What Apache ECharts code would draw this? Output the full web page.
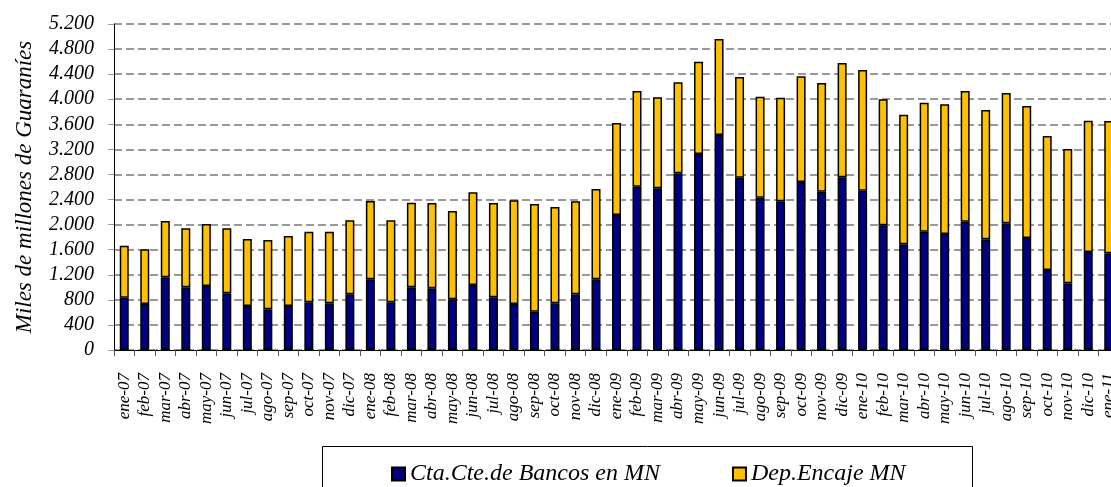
<!DOCTYPE html>
<html>
<head>
<meta charset="utf-8">
<script src="https://cdn.jsdelivr.net/npm/echarts@6/dist/echarts.min.js"></script>
<style>
  html, body { margin: 0; padding: 0; background: #fff; }
  #chart { width: 1111px; height: 487px; }
</style>
</head>
<body>
<div id="chart"></div>
<script>
// meses ene-07 .. ene-11
var meses = ['ene-07', 'feb-07', 'mar-07', 'abr-07', 'may-07', 'jun-07', 'jul-07', 'ago-07', 'sep-07', 'oct-07', 'nov-07', 'dic-07',
    'ene-08', 'feb-08', 'mar-08', 'abr-08', 'may-08', 'jun-08', 'jul-08', 'ago-08', 'sep-08', 'oct-08', 'nov-08', 'dic-08',
    'ene-09', 'feb-09', 'mar-09', 'abr-09', 'may-09', 'jun-09', 'jul-09', 'ago-09', 'sep-09', 'oct-09', 'nov-09', 'dic-09',
    'ene-10', 'feb-10', 'mar-10', 'abr-10', 'may-10', 'jun-10', 'jul-10', 'ago-10', 'sep-10', 'oct-10', 'nov-10', 'dic-10',
    'ene-11'];

// Cta.Cte.de Bancos en MN (parte inferior)
var ctaCte = [835, 734, 1159, 1000, 1021, 904, 702, 649, 702, 760, 744, 888,
    1127, 760, 1000, 984, 808, 1037, 840, 734, 611, 744, 888, 1127,
    2153, 2605, 2579, 2818, 3126, 3429, 2749, 2430, 2371, 2680, 2526, 2754,
    2542, 1989, 1685, 1888, 1850, 2047, 1765, 2020, 1787, 1276, 1063, 1563,
    1542];

// total de la barra (Cta.Cte + Dep.Encaje)
var totales = [1664, 1606, 2058, 1941, 2010, 1941, 1771, 1755, 1818, 1888, 1888, 2068,
    2377, 2068, 2350, 2345, 2217, 2515, 2345, 2387, 2329, 2281, 2371, 2568,
    3621, 4131, 4030, 4270, 4599, 4961, 4355, 4041, 4025, 4365, 4259, 4578,
    4466, 3998, 3754, 3945, 3919, 4131, 3828, 4099, 3892, 3413, 3206, 3658,
    3653];

// Dep.Encaje MN = total - Cta.Cte
var depEncaje = totales.map(function (t, i) { return t - ctaCte[i]; });

var fuente = '"Liberation Serif", "DejaVu Serif", serif';

var myChart = echarts.init(document.getElementById('chart'));

var option = {
    animation: false,
    backgroundColor: '#fff',
    grid: {
        left: 114,
        top: 24,
        bottom: 137,
        width: 1005,
        outerBoundsMode: 'none'
    },
    legend: {
        left: 386,
        top: 457,
        itemWidth: 13,
        itemHeight: 13,
        itemGap: 72,
        icon: 'rect',
        textStyle: {
            fontFamily: fuente,
            fontStyle: 'italic',
            fontSize: 24,
            color: '#000'
        },
        data: ['Cta.Cte.de Bancos en MN', 'Dep.Encaje MN']
    },
    graphic: [
        {
            type: 'rect',
            shape: { x: 322.5, y: 446.5, width: 650, height: 60 },
            style: { fill: 'none', stroke: '#000', lineWidth: 1 },
            z: -1
        }
    ],
    xAxis: {
        type: 'category',
        data: meses,
        axisLine: { lineStyle: { color: '#000', width: 1 } },
        axisTick: { show: true, length: 6, lineStyle: { color: '#555' } },
        axisLabel: {
            rotate: 90,
            margin: 23,
            interval: 0,
            fontFamily: fuente,
            fontStyle: 'italic',
            fontSize: 17,
            color: '#000'
        }
    },
    yAxis: {
        type: 'value',
        min: 0,
        max: 5200,
        interval: 400,
        name: 'Miles de millones de Guaraníes',
        nameLocation: 'middle',
        nameGap: 78,
        nameTextStyle: {
            fontFamily: fuente,
            fontStyle: 'italic',
            fontSize: 23,
            color: '#000'
        },
        axisLine: { show: true, lineStyle: { color: '#000', width: 1 } },
        axisTick: { show: true, length: 6, lineStyle: { color: '#999' } },
        axisLabel: {
            margin: 20,
            fontFamily: fuente,
            fontStyle: 'italic',
            fontSize: 20,
            color: '#000',
            formatter: function (v) {
                return String(v).replace(/\B(?=(\d{3})+(?!\d))/g, '.');
            }
        },
        splitLine: {
            lineStyle: { color: '#999', type: [8, 4], width: 2 }
        }
    },
    series: [
        {
            name: 'Cta.Cte.de Bancos en MN',
            type: 'bar',
            stack: 'total',
            barWidth: 9,
            itemStyle: { color: '#000080', borderColor: '#000', borderWidth: 1.5 },
            data: ctaCte
        },
        {
            name: 'Dep.Encaje MN',
            type: 'bar',
            stack: 'total',
            barWidth: 9,
            itemStyle: { color: '#FFC000', borderColor: '#000', borderWidth: 1.5 },
            data: depEncaje
        }
    ]
};

option && myChart.setOption(option);
</script>
</body>
</html>
